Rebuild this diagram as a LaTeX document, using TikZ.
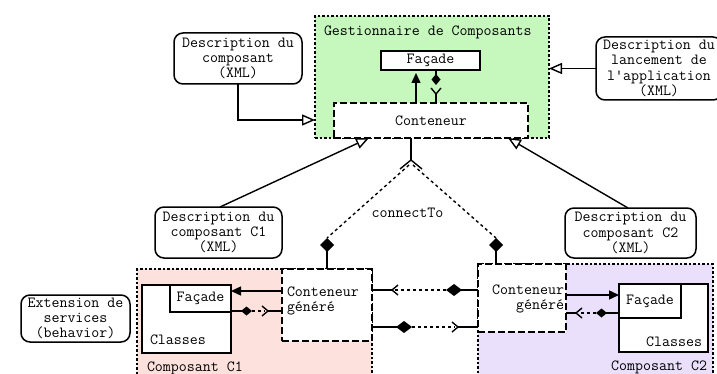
\documentclass[tikz,border=0pt]{standalone}
\usepackage{fontspec}
\usetikzlibrary{arrows.meta,calc}
\definecolor{gbg}{RGB}{198,248,190}
\definecolor{pbg}{RGB}{253,225,221}
\definecolor{vbg}{RGB}{235,224,252}
\begin{document}
\begin{tikzpicture}[x=1pt,y=-1pt,
  every node/.style={inner sep=0pt, outer sep=0pt},
  font=\ttfamily\fontsize{15.5}{15.2}\selectfont,
  boxs/.style={draw, line width=1.6pt, fill=white},
  rbox/.style={draw, line width=1.5pt, rounded corners=9pt, fill=white, align=center},
  dbox/.style={draw, line width=1.6pt, dash pattern=on 7pt off 3pt, fill=white},
  regionbox/.style={draw, line width=1.4pt, dash pattern=on 2.5pt off 2pt},
  conn/.style={line width=1.4pt},
  dconn/.style={line width=1.4pt, dash pattern=on 3pt off 3pt},
  inh/.style={-{Triangle[length=13pt,width=11pt,fill=white]}},
  arr/.style={-{Triangle[length=10pt,width=9pt]}},
  dia/.style={-{Diamond[length=11pt,width=9pt]}},
  bigdia/.style={-{Diamond[length=16pt,width=12pt]}},
  cdia/.style={-{Diamond[length=14pt,width=14pt]}},
  forkpic/.pic={\draw[line width=1.4pt] (6,-5) -- (0,0) -- (6,5);},
  bigforkpic/.pic={\draw[line width=1.4pt] (9,-11) -- (0,0) -- (9,11);},
]
\useasboundingbox (0,0) rectangle (717,374);
\clip (0,0) rectangle (717,374);

% regions
\node[regionbox, fill=gbg, minimum width=234pt, minimum height=122pt, anchor=north west] (green) at (315,16) {};
\node[regionbox, fill=pbg, minimum width=235pt, minimum height=125pt, anchor=north west] (pink) at (137,269) {};
\node[regionbox, fill=vbg, minimum width=235pt, minimum height=130pt, anchor=north west] (purple) at (478,264) {};

\node[anchor=base west] (gtitle) at (324,36) {Gestionnaire de Composants};

% top boxes
\node[boxs, minimum width=99pt, minimum height=19pt] (facT) at (430.5,60.5) {Façade};
\node[dbox, minimum width=194pt, minimum height=35pt] (contT) at (431,120.5) {Conteneur};

% description boxes
\node[rbox, minimum width=128pt, minimum height=51pt] (descA) at (238,58.5) {Description du\\composant\\(XML)};
\node[rbox, minimum width=126pt, minimum height=63pt] (descL) at (659,68.5) {Description du\\lancement de\\l\textquotesingle application\\(XML)};
\node[rbox, minimum width=127pt, minimum height=51pt] (descC1) at (218.5,232.5) {Description du\\composant C1\\(XML)};
\node[rbox, minimum width=131pt, minimum height=50pt] (descC2) at (630.5,233) {Description du\\composant C2\\(XML)};
\node[rbox, minimum width=109pt, minimum height=47pt] (ext) at (75.5,318.5) {Extension de\\services\\(behavior)};

% component C1
\node[dbox, minimum width=90pt, minimum height=72pt] (lcg) at (327,305) {};
\node[anchor=north west, align=left] (lcgt) at (287,287) {Conteneur\\généré};
\node[boxs, minimum width=89pt, minimum height=68pt] (lcls) at (186.5,319) {};
\node[anchor=base west] (lclst) at (150,344) {Classes};
\node[boxs, minimum width=61pt, minimum height=27pt] (lfac) at (200.5,298.5) {Façade};
\node[anchor=base west] (lname) at (147,371) {Composant C1};

% component C2
\node[dbox, minimum width=88pt, minimum height=68pt] (rcg) at (522,298) {};
\node[anchor=north east, align=right] (rcgt) at (564,285) {Conteneur\\généré};
\node[boxs, minimum width=89pt, minimum height=68pt] (rcls) at (663.5,318) {};
\node[anchor=base east] (rclst) at (702,346) {Classes};
\node[boxs, minimum width=62pt, minimum height=34pt] (rfac) at (650,301) {Façade};
\node[anchor=base east] (rname) at (707,370) {Composant C2};

% description connectors
\coordinate (pA) at (315,120);
\draw[conn,inh] (descA.south) |- (pA);
\draw[conn,inh] (descL.west) -- (descL.west -| green.east);
\coordinate (aC1) at (369,138);
\draw[conn,inh] ($(descC1.north)+(1.5,0)$) -- (aC1);
\coordinate (aC2) at (508,138);
\draw[conn,inh] ($(descC2.north)+(-2.5,0)$) -- (aC2);

% inside the manager
\coordinate (tA) at (416,73);
\draw[conn,arr] (tA |- contT.north) -- (tA);
\coordinate (tD) at (436,85);
\draw[conn,dia] (tD |- facT.south) -- (tD);
\coordinate (tF) at (436,94);
\draw[conn] (tF |- contT.north) -- (tF);
\pic[rotate=90] at (tF) {forkpic};

% connectTo
\coordinate (cF) at (411,160);
\draw[conn] (cF |- contT.south) -- (cF);
\pic[rotate=-90] at (cF) {bigforkpic};
\coordinate (dL) at (327,238);
\coordinate (dR) at (496,238);
\draw[conn,cdia] (dL |- lcg.north) -- (dL);
\draw[conn,cdia] (dR |- rcg.north) -- (dR);
\draw[dconn] ($(cF)+(-2,5)$) -- (dL);
\draw[dconn] ($(cF)+(2,5)$) -- (dR);
\node[anchor=base] (ctl) at (407.5,218) {connectTo};

% C1 internal
\coordinate (yL1) at (0,291);
\draw[conn,arr] (lcg.west |- yL1) -- (lfac.east |- yL1);
\coordinate (lD) at (252,311);
\draw[conn,dia] (lfac.east |- lD) -- (lD);
\coordinate (lF) at (268,311);
\draw[dconn] (lD) -- ($(lF)+(-3,0)$);
\draw[conn] (lF) -- (lcg.west |- lF);
\pic[rotate=180] at (lF) {forkpic};

% between containers
\coordinate (mF1) at (392,290);
\draw[conn] (lcg.east |- mF1) -- (mF1);
\pic at (mF1) {forkpic};
\coordinate (mD1) at (446,290);
\draw[conn,bigdia] (rcg.west |- mD1) -- (mD1);
\draw[dconn] ($(mF1)+(3,0)$) -- (mD1);

\coordinate (mD2) at (412,327);
\draw[conn,bigdia] (lcg.east |- mD2) -- (mD2);
\coordinate (mF2) at (458,327);
\draw[dconn] (mD2) -- ($(mF2)+(-3,0)$);
\draw[conn] (mF2) -- (rcg.west |- mF2);
\pic[rotate=180] at (mF2) {forkpic};

% C2 internal
\coordinate (yR1) at (0,295);
\draw[conn,arr] (rcg.east |- yR1) -- (rfac.west |- yR1);
\coordinate (rD) at (596,313);
\draw[conn,dia] (rfac.west |- rD) -- (rD);
\coordinate (rF) at (576,313);
\draw[dconn] (rD) -- ($(rF)+(3,0)$);
\draw[conn] (rF) -- (rcg.east |- rF);
\pic at (rF) {forkpic};
\end{tikzpicture}
\end{document}
